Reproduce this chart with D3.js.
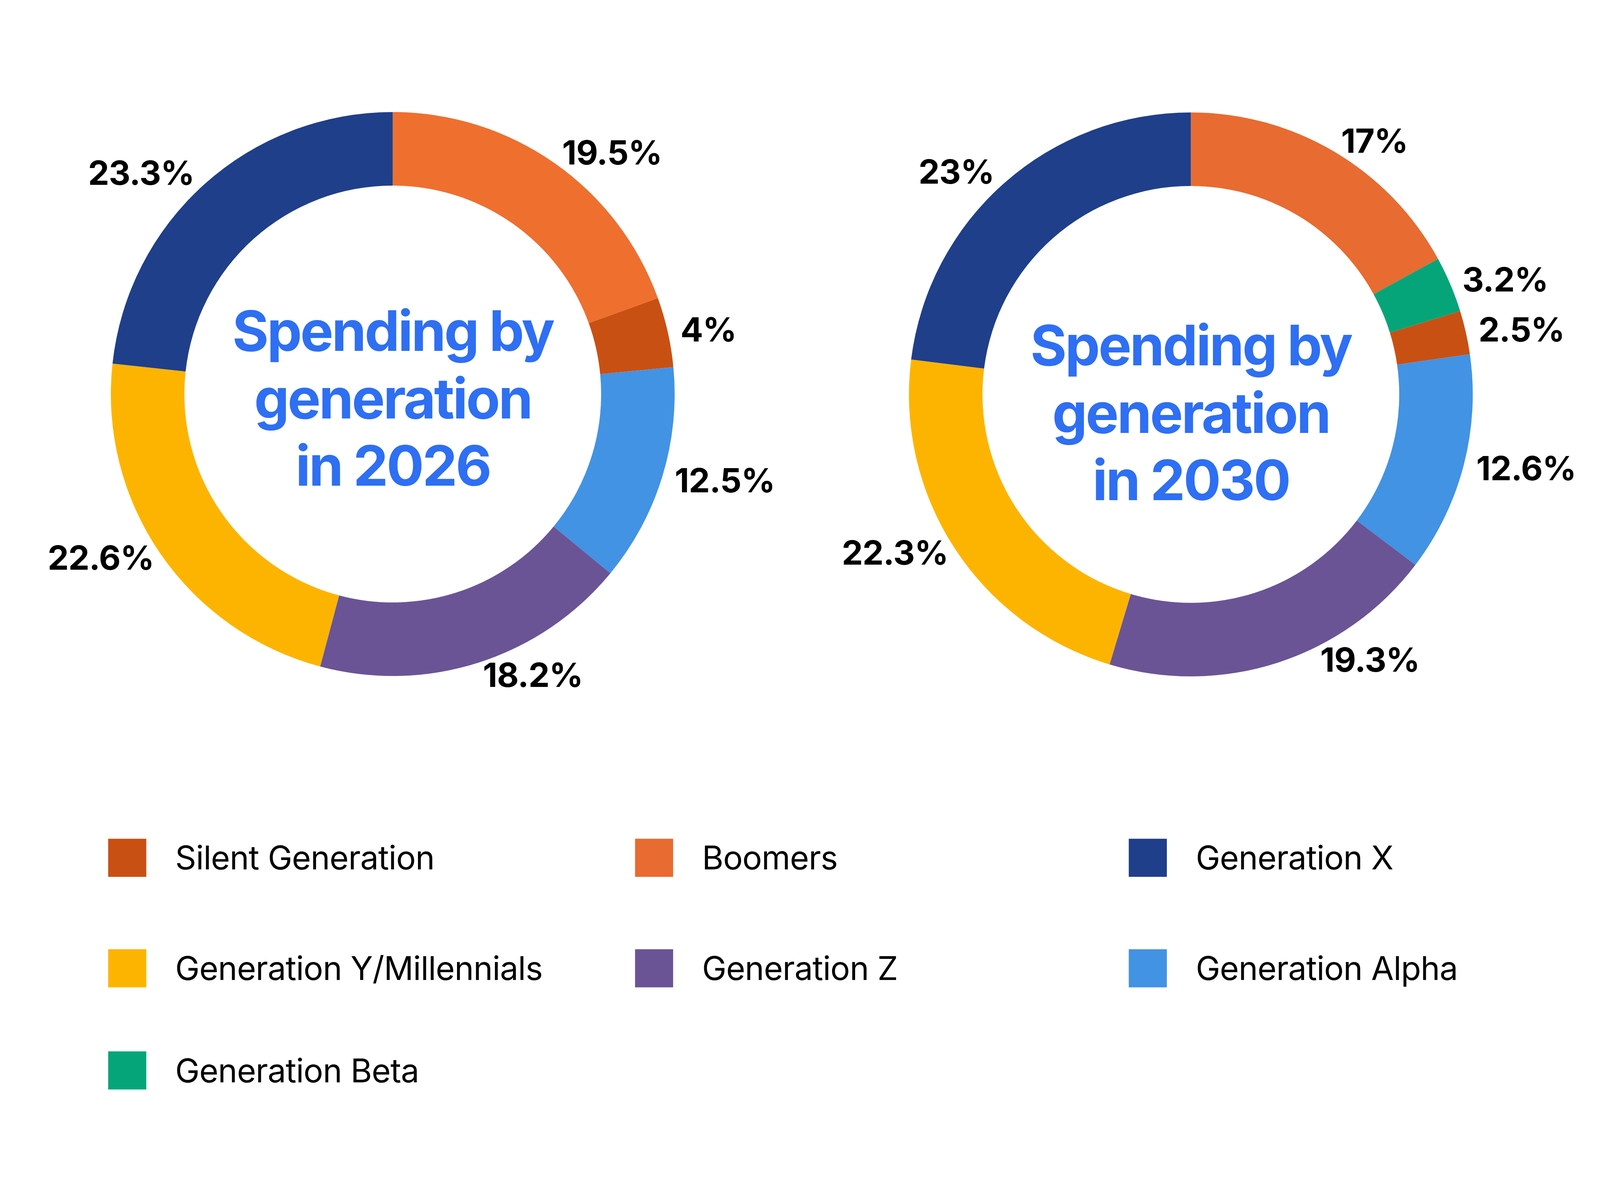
<!DOCTYPE html>
<html>
<head>
<meta charset="utf-8">
<script src="https://cdn.jsdelivr.net/npm/d3@7/dist/d3.min.js"></script>
<style>
  html, body { margin: 0; padding: 0; background: #fff; overflow: hidden; }
  svg { display: block; width: 100vw; height: 100vh; }
</style>
</head>
<body>
<div id="chart"></div>
<script>
// data ----------------------------------------------------------
const generations = ['Silent Generation', 'Boomers', 'Generation X', 'Generation Y/Millennials',
  'Generation Z', 'Generation Alpha', 'Generation Beta'];

// slice order clockwise from 12 o'clock
const order2026 = ['Boomers', 'Silent Generation', 'Generation Alpha', 'Generation Z',
  'Generation Y/Millennials', 'Generation X'];
const values2026 = [19.5, 4, 12.5, 18.2, 22.6, 23.3];
const labels2026 = ['19.5%', '4%', '12.5%', '18.2%', '22.6%', '23.3%'];

const order2030 = ['Boomers', 'Generation Beta', 'Silent Generation', 'Generation Alpha',
  'Generation Z', 'Generation Y/Millennials', 'Generation X'];
const values2030 = [17, 3.2, 2.5, 12.6, 19.3, 22.3, 23];
const labels2030 = ['17%', '3.2%', '2.5%', '12.6%', '19.3%', '22.3%', '23%'];

const titles = [['Spending by', 'generation', 'in 2026'], ['Spending by', 'generation', 'in 2030']];

const colors = {
  'Silent Generation': '#C95013',
  'Boomers': '#E86B31',
  'Generation X': '#1F3F8A',
  'Generation Y/Millennials': '#FDB400',
  'Generation Z': '#6A5496',
  'Generation Alpha': '#4293E3',
  'Generation Beta': '#06A579'
};
// the 2026 ring uses a slightly brighter boomer orange
const boomers2026 = '#EF6F2F';

// layout --------------------------------------------------------
const W = 4200, H = 3025;
const outerR = 740, innerR = 547;
const fontFamily = 'Inter, "Noto Sans", sans-serif';

// label distance from the centre; lower-left labels sit a little closer in
function labelRadius(a) {
  if (a < Math.PI) return 774;
  if (a < 1.5 * Math.PI) return 760;
  return 780;
}

// scale the drawing to the viewport width, pinned to the top
const svg = d3.select('#chart').append('svg')
  .attr('viewBox', `0 0 ${W} ${H}`)
  .attr('preserveAspectRatio', 'xMidYMin meet');

const pie = d3.pie().sort(null).value(d => d.value);
const arc = d3.arc().innerRadius(innerR).outerRadius(outerR);

// angle of a label: mid of its slice, plus an optional nudge (degrees)
function labelAngle(d, nudge) {
  const n = (nudge && nudge[d.data.name]) || 0;
  return (d.startAngle + d.endAngle) / 2 + n * Math.PI / 180;
}

function drawDonut(cx, cy, order, values, labels, title, titleShift, boomerColor, nudge) {
  const rows = order.map((g, i) => ({ name: g, value: values[i], label: labels[i] }));
  const g = svg.append('g').attr('transform', `translate(${cx},${cy})`);
  const arcs = pie(rows);

  g.selectAll('path.slice')
    .data(arcs)
    .enter()
    .append('path')
    .attr('class', 'slice')
    .attr('d', arc)
    .attr('fill', d => (d.data.name === 'Boomers' && boomerColor) ? boomerColor : colors[d.data.name]);

  // percent labels sit just outside the ring, anchored away from the centre
  g.selectAll('text.pct')
    .data(arcs)
    .enter()
    .append('text')
    .attr('class', 'pct')
    .attr('x', d => { const a = labelAngle(d, nudge); return labelRadius(a) * Math.sin(a); })
    .attr('y', d => { const a = labelAngle(d, nudge); return -labelRadius(a) * Math.cos(a); })
    .attr('dy', '0.36em')
    .attr('text-anchor', d => labelAngle(d, nudge) < Math.PI ? 'start' : 'end')
    .style('font-family', fontFamily)
    .style('font-weight', 700)
    .style('font-size', '88px')
    .style('letter-spacing', '-1px')
    .attr('fill', '#000')
    .text(d => d.data.label);

  // centre title
  g.append('text')
    .attr('text-anchor', 'middle')
    .style('font-family', fontFamily)
    .style('font-weight', 700)
    .style('font-size', '146px')
    .style('letter-spacing', '-4.5px')
    .attr('fill', '#2E6FF3')
    .selectAll('tspan')
    .data(title)
    .enter()
    .append('tspan')
    .attr('x', 0)
    .attr('y', (d, i) => -113 + titleShift + i * 177)
    .text(d => d);
}

drawDonut(1031, 1034, order2026, values2026, labels2026, titles[0], 0, boomers2026, null);
drawDonut(3126, 1035, order2030, values2030, labels2030, titles[1], 37, null, { 'Generation Z': -8 });

// legend ----------------------------------------------------------
const legendCols = [284, 1667, 2963];
const legendRows = [2251, 2541, 2809];
const legend = svg.append('g').attr('class', 'legend');

const items = legend.selectAll('g.item')
  .data(generations)
  .enter()
  .append('g')
  .attr('class', 'item')
  .attr('transform', (d, i) => `translate(${legendCols[i % 3]},${legendRows[Math.floor(i / 3)]})`);

items.append('rect')
  .attr('x', 0)
  .attr('y', -50)
  .attr('width', 100)
  .attr('height', 100)
  .attr('fill', d => colors[d]);

items.append('text')
  .attr('x', 176)
  .attr('y', 0)
  .attr('dy', '0.36em')
  .style('font-family', fontFamily)
  .style('font-weight', 400)
  .style('font-size', '86px')
  .style('letter-spacing', '-1px')
  .attr('fill', '#000')
  .text(d => d);
</script>
</body>
</html>
